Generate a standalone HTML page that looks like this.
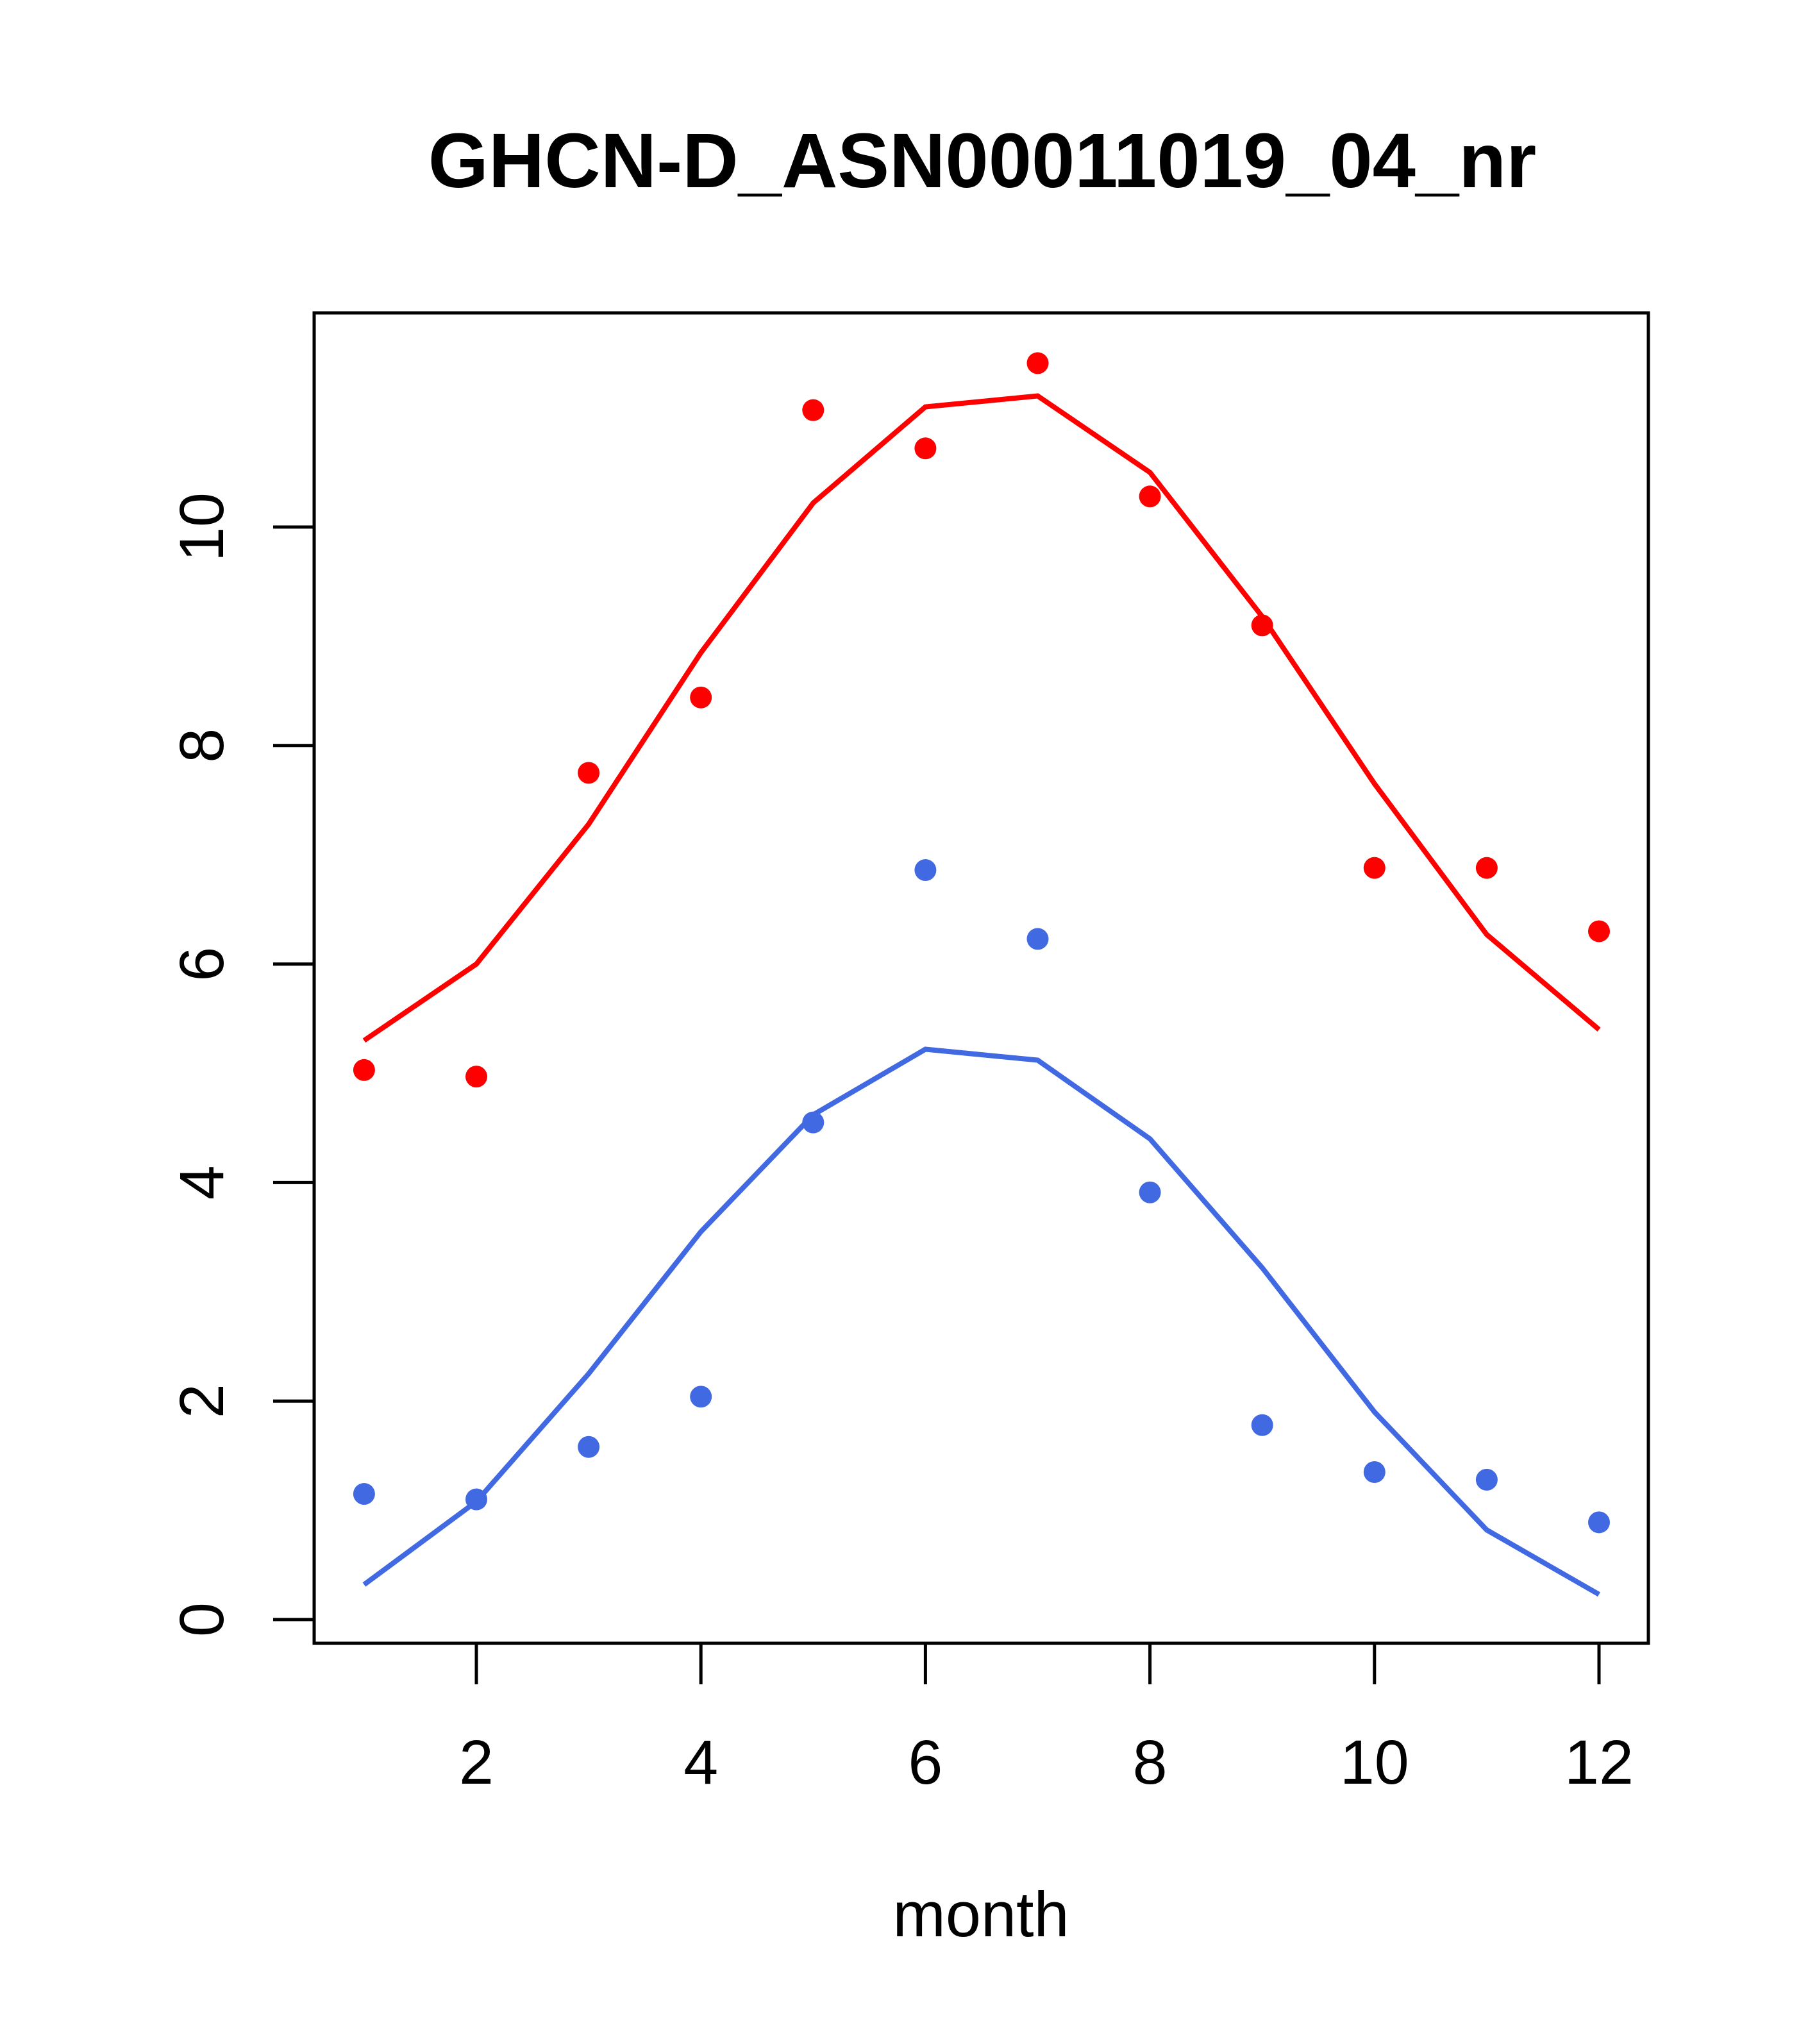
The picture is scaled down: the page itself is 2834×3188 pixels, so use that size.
<!DOCTYPE html>
<html><head><meta charset="utf-8"><style>body{margin:0;background:#fff}svg{display:block}</style></head>
<body>
<svg id="chart" width="2834" height="3188" viewBox="0 0 2834 3188" xmlns="http://www.w3.org/2000/svg" font-family="Liberation Sans, sans-serif">
<rect width="2834" height="3188" fill="#fff"/>
<text x="1532" y="292" text-anchor="middle" font-size="121" font-weight="bold">GHCN-D_ASN00011019_04_nr</text>
<rect x="490" y="488" width="2081" height="2075" fill="none" stroke="#000" stroke-width="5"/>
<g id="xaxis"></g>
<g id="yaxis"></g>
<g id="series"></g>
<text x="1530" y="3020" text-anchor="middle" font-size="99">month</text>
</svg>
<script>
const months=[1,2,3,4,5,6,7,8,9,10,11,12];
const redPoints=[5.03,4.97,7.75,8.44,11.07,10.72,11.5,10.28,9.1,6.88,6.88,6.3];
const redLine=[5.3,6.0,7.28,8.85,10.22,11.1,11.2,10.5,9.18,7.65,6.27,5.4];
const bluePoints=[1.15,1.1,1.58,2.04,4.55,6.86,6.23,3.91,1.78,1.35,1.28,0.89];
const blueLine=[0.32,1.08,2.25,3.55,4.62,5.22,5.12,4.4,3.22,1.9,0.82,0.23];
const xTicks=[2,4,6,8,10,12];
const yTicks=[0,2,4,6,8,10];
const NS="http://www.w3.org/2000/svg";
function X(m){return 743+(m-2)*175.1;}
function Y(v){return 2526-v*170.4;}
function mk(t,a,p){const e=document.createElementNS(NS,t);for(const k in a)e.setAttribute(k,a[k]);p.appendChild(e);return e;}
const xa=document.getElementById('xaxis'),ya=document.getElementById('yaxis'),sg=document.getElementById('series');
mk('line',{x1:X(2),x2:X(12),y1:2563,y2:2563,stroke:'#000','stroke-width':5},xa);
xTicks.forEach(t=>{
 const l=mk('line',{x1:X(t),x2:X(t),y1:2563,y2:2627,stroke:'#000','stroke-width':5},xa);
 
 
 const tx=mk('text',{x:X(t),y:2782,'text-anchor':'middle','font-size':97},xa);tx.textContent=t;
 
 
});
mk('line',{x1:490,x2:490,y1:Y(0),y2:Y(10),stroke:'#000','stroke-width':5},ya);
yTicks.forEach(t=>{
 const l=mk('line',{x1:426,x2:490,y1:Y(t),y2:Y(t),stroke:'#000','stroke-width':5},ya);
 
 
 const tx=mk('text',{x:0,y:0,'text-anchor':'middle','font-size':97,transform:`translate(348,${Y(t)}) rotate(-90)`},ya);tx.textContent=t;
 
 
});
function series(line,pts,col,name){
 const pl=mk('polyline',{points:months.map((m,i)=>X(m)+','+Y(line[i])).join(' '),fill:'none',stroke:col,'stroke-width':8},sg);
 
 
 months.forEach((m,i)=>{
  const c=mk('circle',{cx:X(m),cy:Y(pts[i]),r:17,fill:col},sg);
  
  
 });
}
series(redLine,redPoints,'#ff0000','red');
series(blueLine,bluePoints,'#4169e1','blue');
</script>
</body></html>
